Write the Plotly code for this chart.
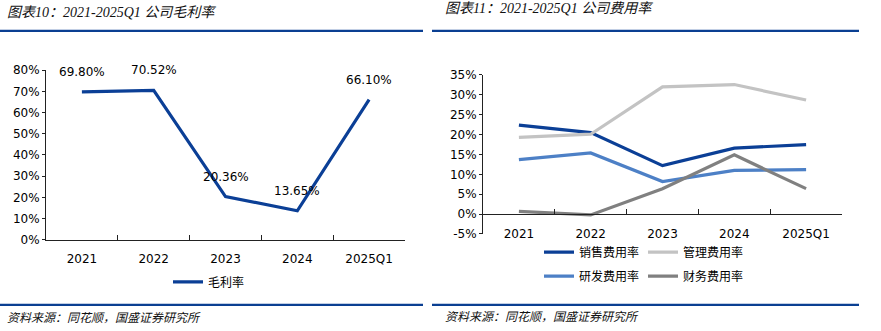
import plotly.graph_objects as go

W, H = 881, 331

# ---------------- data ----------------
categories = ["2021", "2022", "2023", "2024", "2025Q1"]
gross_margin = [69.80, 70.52, 20.36, 13.65, 66.10]

sales_exp = [22.4, 20.5, 12.2, 16.6, 17.5]
admin_exp = [19.3, 20.1, 32.0, 32.6, 28.7]
rd_exp = [13.7, 15.4, 8.2, 11.0, 11.2]
fin_exp = [0.7, -0.2, 6.4, 14.9, 6.4]

right_ticks = [-5, 0, 5, 10, 15, 20, 25, 30, 35]

left_title = "图表10：2021-2025Q1 公司毛利率"
right_title = "图表11：2021-2025Q1 公司费用率"
source_text = "资料来源：同花顺，国盛证券研究所"

# ---------------- styles ----------------
C_DBLUE = "#0B3F96"
C_LGRAY = "#C3C3C3"
C_MBLUE = "#4D80C6"
C_DGRAY = "#808080"
C_HEAD = "#0A3F92"
AXIS_C = "#222222"
TICK_FONT = dict(family="DejaVu Sans", size=12, color="#000000")
CJK = "Noto Sans CJK SC"
TITLE_FONT = dict(family="Liberation Serif, Noto Sans CJK SC", size=14, color="#111111", style="italic")


def px_x(x):
    return x / W


def px_y(y):
    return 1 - y / H


fig = go.Figure()

# left chart
fig.add_trace(go.Scatter(x=categories, y=gross_margin, mode="lines", name="毛利率",
                         line=dict(color=C_DBLUE, width=3.2), xaxis="x", yaxis="y",
                         legend="legend", hoverinfo="skip"))

# right chart
series = [("销售费用率", sales_exp, C_DBLUE, "legend2"),
          ("管理费用率", admin_exp, C_LGRAY, "legend2"),
          ("研发费用率", rd_exp, C_MBLUE, "legend3"),
          ("财务费用率", fin_exp, C_DGRAY, "legend3")]
for name, vals, col, lg in series:
    fig.add_trace(go.Scatter(x=categories, y=vals, mode="lines", name=name,
                             line=dict(color=col, width=3.2), xaxis="x2", yaxis="y2",
                             legend=lg, hoverinfo="skip"))

annotations = []
for i, v in enumerate(gross_margin):
    annotations.append(dict(x=i, y=v, xref="x", yref="y", text=f"{v:.2f}%", showarrow=False,
                            yshift=20, font=dict(family="DejaVu Sans", size=12, color="#000000")))

# titles and sources
annotations += [
    dict(x=px_x(5), y=px_y(6), xref="paper", yref="paper", xanchor="left", yanchor="middle",
         text=left_title, showarrow=False, font=TITLE_FONT),
    dict(x=px_x(443), y=px_y(2), xref="paper", yref="paper", xanchor="left", yanchor="middle",
         text=right_title, showarrow=False, font=TITLE_FONT),
    dict(x=px_x(5), y=px_y(323), xref="paper", yref="paper", xanchor="left", yanchor="middle",
         text=source_text, showarrow=False,
         font=dict(family=CJK, size=12, color="#111111", style="italic")),
    dict(x=px_x(443), y=px_y(322), xref="paper", yref="paper", xanchor="left", yanchor="middle",
         text=source_text, showarrow=False,
         font=dict(family=CJK, size=12, color="#111111", style="italic")),
]

shapes = []
for x0, x1 in [(0, 423), (432, 859)]:
    for yy in (25, 311):
        shapes.append(dict(type="line", xref="paper", yref="paper", x0=px_x(x0), x1=px_x(x1),
                           y0=px_y(yy), y1=px_y(yy), line=dict(color=C_HEAD, width=2.2)))

y1_dom = [px_y(243), px_y(66)]
y2_dom = [px_y(237), px_y(71)]
y2_range = [-5, 35]
zero_pos = y2_dom[0] + (0 - y2_range[0]) / (y2_range[1] - y2_range[0]) * (y2_dom[1] - y2_dom[0])

common_x = dict(type="category", categoryorder="array", categoryarray=categories,
                range=[-0.5, len(categories) - 0.5],
                showline=True, linecolor=AXIS_C, linewidth=1, ticks="inside",
                tickson="boundaries", ticklen=5, tickcolor=AXIS_C, tickfont=TICK_FONT,
                showgrid=False, zeroline=False, ticklabelstandoff=8, fixedrange=True)
common_y = dict(showline=True, linecolor=AXIS_C, linewidth=1, ticks="outside", ticklen=3,
                tickcolor=AXIS_C, tickfont=TICK_FONT, showgrid=False, zeroline=False,
                fixedrange=True)

leg_common = dict(orientation="h", bgcolor="rgba(0,0,0,0)", font=dict(family=CJK, size=12, color="#000000"),
                  xanchor="left", yanchor="middle", itemclick=False, itemdoubleclick=False,
                  entrywidth=59, tracegroupgap=0)

fig.update_layout(
    width=W, height=H, margin=dict(l=0, r=0, t=0, b=0),
    paper_bgcolor="white", plot_bgcolor="white",
    showlegend=True,
    xaxis=dict(domain=[px_x(46), px_x(405)], anchor="y", **common_x),
    yaxis=dict(domain=y1_dom, anchor="x", range=[0, 80], dtick=10, ticksuffix="%", **common_y),
    xaxis2=dict(domain=[px_x(483), px_x(842)], anchor="free", position=zero_pos, **common_x),
    yaxis2=dict(domain=y2_dom, anchor="x2", range=y2_range, tickmode="array",
                tickvals=right_ticks, ticktext=[f"{t}%" for t in right_ticks], **common_y),
    legend=dict(x=px_x(168), y=px_y(287), **leg_common),
    legend2=dict(x=px_x(539), y=px_y(256), **leg_common),
    legend3=dict(x=px_x(539), y=px_y(281), **leg_common),
    annotations=annotations,
    shapes=shapes,
)

fig.write_html("out.html")
